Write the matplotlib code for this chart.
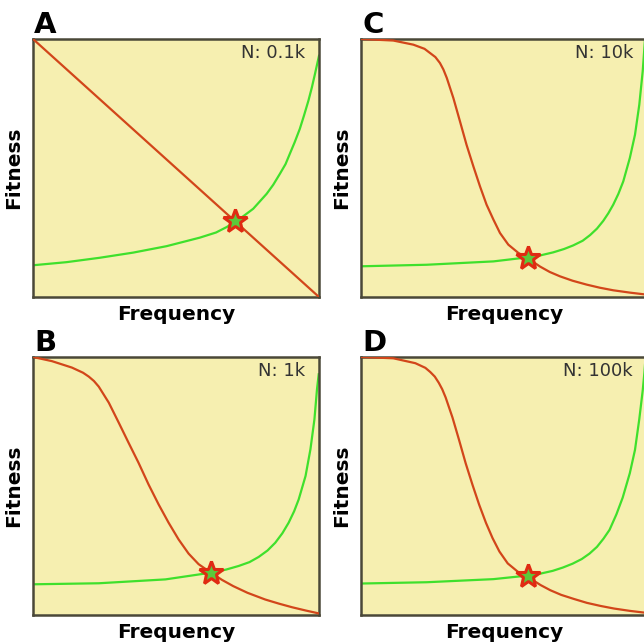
import matplotlib
matplotlib.use("Agg")
import matplotlib.pyplot as plt

# panel labels and population sizes
panels = ["A", "C", "B", "D"]
pop_labels = ["N: 0.1k", "N: 10k", "N: 1k", "N: 100k"]

# panel A (N = 0.1k)
red_x_a = [0.0, 1.0]
red_y_a = [1.0, 0.0]
green_x_a = [0.0, 0.117, 0.233, 0.35, 0.467, 0.583, 0.64, 0.677, 0.723, 0.77, 0.817,
             0.84, 0.863, 0.883, 0.898, 0.915, 0.933, 0.948, 0.963, 0.975, 0.986, 1.0]
green_y_a = [0.123, 0.135, 0.152, 0.172, 0.197, 0.23, 0.25, 0.271, 0.303, 0.342, 0.4,
             0.435, 0.477, 0.515, 0.555, 0.6, 0.652, 0.705, 0.761, 0.812, 0.865, 0.935]
star_a = (0.706, 0.294)

# panel C (N = 10k)
red_x_c = [0.0, 0.113, 0.183, 0.222, 0.241, 0.26, 0.276, 0.288, 0.3, 0.323, 0.346, 0.369,
           0.393, 0.416, 0.439, 0.463, 0.486, 0.515, 0.55, 0.585, 0.626, 0.66, 0.696,
           0.74, 0.789, 0.835, 0.882, 0.94, 1.0]
red_y_c = [1.0, 0.994, 0.978, 0.962, 0.946, 0.93, 0.907, 0.882, 0.849, 0.771, 0.681,
           0.59, 0.506, 0.429, 0.358, 0.3, 0.248, 0.203, 0.171, 0.149, 0.118, 0.097,
           0.08, 0.063, 0.048, 0.036, 0.026, 0.017, 0.009]
green_x_c = [0.0, 0.23, 0.463, 0.585, 0.63, 0.672, 0.71, 0.742, 0.775, 0.801, 0.825,
             0.847, 0.865, 0.882, 0.9, 0.917, 0.94, 0.958, 0.973, 0.985, 0.99, 0.993]
green_y_c = [0.119, 0.125, 0.138, 0.154, 0.162, 0.173, 0.186, 0.2, 0.218, 0.24, 0.265,
             0.295, 0.325, 0.358, 0.4, 0.448, 0.539, 0.629, 0.745, 0.875, 0.952, 1.0]
star_c = (0.585, 0.152)

# panel B (N = 1k)
red_x_b = [0.0, 0.066, 0.136, 0.175, 0.195, 0.213, 0.23, 0.265, 0.3, 0.334, 0.369,
           0.404, 0.439, 0.474, 0.509, 0.544, 0.579, 0.622, 0.661, 0.7, 0.75, 0.812,
           0.86, 0.906, 0.955, 1.0]
red_y_b = [1.0, 0.984, 0.959, 0.939, 0.924, 0.907, 0.885, 0.823, 0.745, 0.668, 0.59,
           0.506, 0.429, 0.358, 0.293, 0.238, 0.197, 0.164, 0.136, 0.112, 0.086, 0.06,
           0.044, 0.03, 0.017, 0.006]
green_x_b = [0.0, 0.23, 0.463, 0.622, 0.675, 0.719, 0.757, 0.789, 0.82, 0.847, 0.872,
             0.894, 0.913, 0.929, 0.953, 0.97, 0.984, 0.993, 0.999]
green_y_b = [0.119, 0.123, 0.138, 0.164, 0.176, 0.19, 0.205, 0.225, 0.25, 0.28, 0.317,
             0.358, 0.402, 0.448, 0.539, 0.642, 0.758, 0.875, 0.933]
star_b = (0.622, 0.164)

# panel D (N = 100k)
red_x_d = [0.0, 0.113, 0.19, 0.225, 0.242, 0.258, 0.272, 0.284, 0.296, 0.32, 0.343,
           0.366, 0.39, 0.413, 0.437, 0.46, 0.484, 0.513, 0.548, 0.584, 0.628, 0.662,
           0.7, 0.745, 0.79, 0.838, 0.885, 0.94, 1.0]
red_y_d = [1.0, 0.995, 0.976, 0.958, 0.942, 0.924, 0.9, 0.875, 0.843, 0.765, 0.678,
           0.588, 0.504, 0.428, 0.357, 0.298, 0.246, 0.2, 0.168, 0.147, 0.116, 0.096,
           0.078, 0.062, 0.047, 0.035, 0.025, 0.016, 0.008]
green_x_d = [0.0, 0.23, 0.463, 0.584, 0.63, 0.67, 0.706, 0.74, 0.772, 0.799, 0.825,
             0.848, 0.869, 0.893, 0.915, 0.94, 0.958, 0.973, 0.985, 0.991, 0.995]
green_y_d = [0.122, 0.127, 0.139, 0.153, 0.161, 0.171, 0.184, 0.199, 0.217, 0.238, 0.264,
             0.296, 0.33, 0.39, 0.455, 0.55, 0.64, 0.759, 0.87, 0.94, 1.0]
star_d = (0.584, 0.153)

reds = [(red_x_a, red_y_a), (red_x_c, red_y_c), (red_x_b, red_y_b), (red_x_d, red_y_d)]
greens = [(green_x_a, green_y_a), (green_x_c, green_y_c), (green_x_b, green_y_b), (green_x_d, green_y_d)]
stars = [star_a, star_c, star_b, star_d]

W = 644.0
# axes boxes in pixels: left, top, width, height
boxes = [(33, 39, 286, 258), (361, 39, 286, 258), (33, 357, 286, 258), (361, 357, 286, 258)]

fig = plt.figure(figsize=(6.44, 6.44), dpi=100)

for i in range(4):
    l, t, w, h = boxes[i]
    ax = fig.add_axes([l / W, (W - t - h) / W, w / W, h / W])
    ax.set_facecolor("#f6efb0")
    ax.plot(greens[i][0], greens[i][1], color="#3fe02c", lw=1.6, zorder=2,
            solid_joinstyle="round")
    ax.plot(reds[i][0], reds[i][1], color="#d2461a", lw=1.6, zorder=3,
            solid_joinstyle="round")
    ax.plot(stars[i][0], stars[i][1], marker="*", markersize=18, markerfacecolor="#5cc83a",
            markeredgecolor="#e02a12", markeredgewidth=2.2, zorder=4, clip_on=False)
    ax.set_xlim(0, 1)
    ax.set_ylim(0, 1)
    ax.set_xticks([])
    ax.set_yticks([])
    for s in ax.spines.values():
        s.set_color("#4a4838")
        s.set_linewidth(1.8)
    ax.text(1 - 14.0 / w, 1 - 5.0 / h, pop_labels[i], transform=ax.transAxes,
            ha="right", va="top", fontsize=13, color="#333333")
    # axis titles
    fig.text((l - 19) / W, (W - t - h / 2) / W, "Fitness", rotation=90,
             ha="center", va="center", fontsize=14.5, fontweight="bold")
    fig.text((l + 143) / W, (W - t - h - 17) / W, "Frequency",
             ha="center", va="center", fontsize=14.5, fontweight="bold")
    fig.text((l + 1) / W, (W - t + 0) / W, panels[i], ha="left", va="bottom",
             fontsize=21, fontweight="bold")

fig.savefig("out.png", dpi=100)
